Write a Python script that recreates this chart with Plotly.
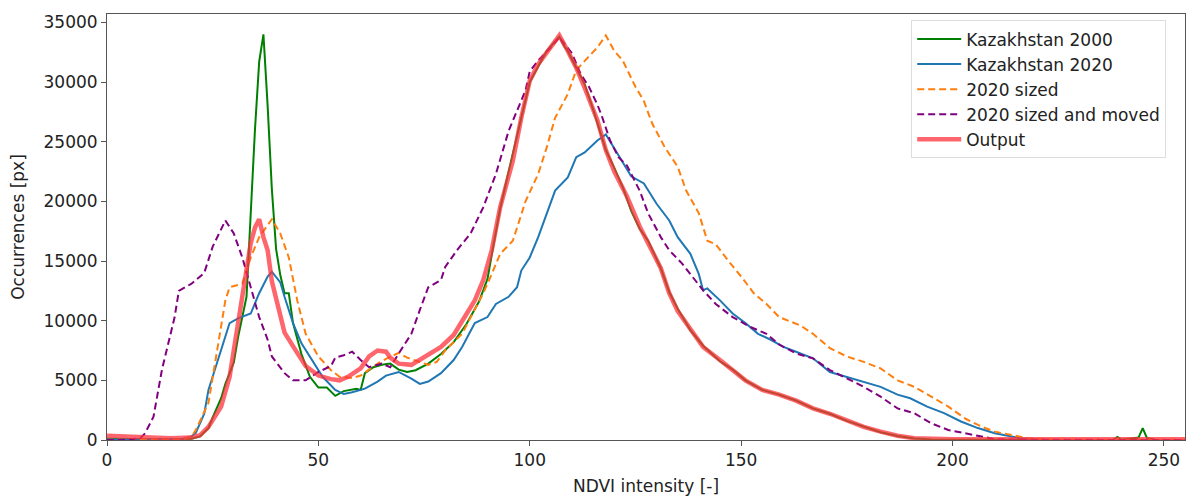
import plotly.graph_objects as go

# histogram values (NDVI bin -> pixel count)
green_x = [0, 10, 20, 22, 24, 25, 27, 28, 30, 31, 33, 34, 35, 36, 37, 38, 39, 40, 41, 42, 43, 44, 46, 48,
           50, 52, 54, 56, 58, 59, 60, 61, 63, 65, 67, 69, 71, 73, 76, 79, 82, 85, 88, 90, 91, 93, 95, 98,
           100, 102, 104, 105, 106, 107, 108, 109, 111, 113, 115, 116, 118, 120, 122, 124, 126, 128, 131,
           133, 135, 138, 141, 145, 148, 151, 155, 159, 163, 167, 171, 175, 179, 183, 187, 191, 195, 200,
           230, 238, 239, 240, 244, 245, 246, 248, 255]
green_y = [100, 60, 100, 300, 1000, 1900, 3500, 4700, 6500, 8600, 12000, 19000, 26000, 31700, 34000, 28000,
           21000, 16000, 13800, 12300, 12300, 9800, 7200, 5300, 4400, 4400, 3700, 4100, 4200, 4300, 4200,
           5600, 6100, 6300, 6400, 5900, 5700, 5850, 6400, 7200, 8200, 9700, 11600, 13500, 15500, 19400,
           22500, 27000, 30000, 31300, 32600, 33000, 33400, 33800, 33100, 32600, 31200, 29800, 27700, 26600,
           24300, 22800, 21200, 19200, 17700, 16700, 14400, 12400, 11000, 9200, 7900, 6600, 5900, 5000, 4200,
           3800, 3300, 2650, 2200, 1600, 1100, 650, 330, 130, 50, 20, 10, 20, 250, 20, 200, 1000, 150, 20, 10]

blue_x = [0, 10, 18, 20, 21, 23, 24, 26, 27, 29, 31, 34, 36, 38, 39, 41, 42, 44, 46, 49, 51, 54, 56, 58,
          61, 64, 66, 69, 72, 74, 76, 79, 82, 84, 87, 90, 92, 95, 97, 98, 100, 102, 104, 106, 109, 111, 113,
          116, 118, 121, 124, 127, 130, 133, 135, 138, 140, 141, 142, 145, 148, 151, 154, 157, 160, 163,
          167, 171, 175, 179, 183, 187, 190, 194, 198, 202, 206, 210, 216, 220, 255]
blue_y = [50, 40, 100, 300, 600, 2200, 4200, 6500, 7700, 9800, 10200, 10600, 12300, 13700, 14100, 13200,
          12000, 9800, 8100, 6400, 5300, 4200, 3850, 4000, 4300, 4900, 5400, 5700, 5150, 4700, 4900, 5600,
          6700, 7800, 9800, 10300, 11400, 12000, 12800, 14200, 15300, 17000, 19000, 20900, 22000, 23700,
          24100, 25100, 25600, 23900, 22100, 21500, 19800, 18400, 17000, 15600, 13900, 12550, 12700, 11700,
          10600, 9800, 8900, 8400, 7800, 7400, 6850, 5700, 5300, 4900, 4450, 3800, 3500, 2800, 2250, 1550,
          1000, 560, 150, 30, 10]

sized_x = [0, 18, 20, 21, 24, 26, 28, 29, 32, 34, 36, 39, 41, 43, 45, 47, 50, 53, 55, 58, 60, 62, 64, 66,
           69, 71, 76, 78, 80, 84, 86, 89, 91, 93, 96, 97, 99, 102, 104, 106, 109, 111, 114, 116, 118, 120,
           122, 125, 127, 129, 132, 135, 137, 140, 142, 144, 147, 150, 153, 156, 159, 164, 167, 171, 175,
           179, 183, 187, 191, 195, 199, 203, 207, 210, 214, 218, 222, 255]
sized_y = [20, 50, 300, 840, 3100, 7500, 11700, 12800, 13100, 15300, 17000, 18500, 17300, 15300, 11700,
           8900, 7000, 5850, 5300, 5200, 5400, 5900, 6400, 6800, 7300, 6900, 6300, 6550, 7500, 8900, 10300,
           12300, 13900, 15600, 16700, 17800, 20000, 22300, 24500, 27000, 29000, 31000, 32100, 32900, 33900,
           32600, 31800, 29600, 28400, 26500, 24500, 22900, 20900, 19000, 16700, 16400, 15000, 13700, 12300,
           11400, 10300, 9600, 8900, 7700, 7000, 6550, 6000, 5000, 4450, 3600, 2800, 1800, 1100, 700, 400,
           140, 30, 10]

moved_x = [0, 5, 8, 9, 11, 13, 16, 17, 20, 23, 25, 28, 30, 32, 34, 36, 38, 39, 42, 44, 47, 50, 53, 54,
           56, 58, 60, 62, 65, 67, 69, 72, 74, 76, 79, 80, 83, 86, 89, 92, 95, 97, 99, 100, 102, 105, 107,
           110, 112, 114, 116, 117, 119, 121, 123, 126, 128, 131, 133, 136, 139, 141, 144, 148, 152, 156,
           159, 163, 167, 171, 175, 179, 183, 187, 191, 195, 199, 203, 207, 210, 215, 255]
moved_y = [0, 20, 200, 560, 1950, 5900, 10300, 12500, 13100, 14000, 16200, 18400, 17300, 15300, 12800,
           10300, 8400, 7000, 5600, 5000, 5000, 5700, 6200, 6900, 7100, 7400, 6700, 6100, 6400, 6100, 7250,
           8900, 10900, 12800, 13400, 14500, 16000, 17300, 19500, 22300, 25900, 27600, 29300, 30900, 31800,
           32900, 33750, 32400, 30700, 29600, 28100, 27200, 25100, 23700, 23000, 20900, 19000, 17000, 15900,
           14800, 13400, 12550, 11400, 10300, 9500, 8900, 8000, 7250, 6840, 5860, 5160, 4460, 3630, 2650,
           2230, 1400, 840, 560, 280, 80, 20, 0]

out_x = [0, 5, 10, 15, 20, 22, 24, 27, 29, 31, 32, 34, 35, 36, 37, 38, 39, 41, 42, 45, 47, 50, 53, 55,
         57, 60, 62, 64, 66, 67, 69, 72, 75, 79, 82, 84, 87, 89, 91, 93, 96, 98, 100, 102, 105, 106, 107,
         109, 111, 113, 116, 118, 120, 123, 126, 128, 131, 133, 135, 138, 141, 145, 148, 151, 155, 159,
         163, 167, 171, 175, 179, 183, 187, 191, 195, 200, 220, 255]
out_y = [350, 300, 200, 150, 200, 400, 1100, 2800, 5300, 9800, 12000, 16500, 17800, 18500, 17000, 15900,
         13300, 10600, 9000, 7300, 6200, 5400, 5100, 5000, 5300, 6000, 7000, 7500, 7400, 6900, 6400, 6300,
         6900, 7800, 8800, 10000, 11700, 13400, 15900, 19500, 23400, 27000, 30100, 31500, 32900, 33400,
         33900, 32600, 31200, 29500, 26800, 24300, 22500, 20400, 17900, 16500, 14400, 12300, 10800, 9300,
         7800, 6700, 5900, 5000, 4200, 3800, 3300, 2650, 2200, 1650, 1100, 700, 360, 150, 80, 60, 60, 60]

FONT = "DejaVu Sans"

fig = go.Figure()
fig.add_trace(go.Scatter(x=green_x, y=green_y, mode="lines", name="Kazakhstan 2000",
                         line=dict(color="#008000", width=2)))
fig.add_trace(go.Scatter(x=blue_x, y=blue_y, mode="lines", name="Kazakhstan 2020",
                         line=dict(color="#1f77b4", width=2)))
fig.add_trace(go.Scatter(x=sized_x, y=sized_y, mode="lines", name="2020 sized",
                         line=dict(color="#ff7f0e", width=2, dash="7px,4px")))
fig.add_trace(go.Scatter(x=moved_x, y=moved_y, mode="lines", name="2020 sized and moved",
                         line=dict(color="#800080", width=2, dash="7px,4px")))
fig.add_trace(go.Scatter(x=out_x, y=out_y, mode="lines", name="Output",
                         line=dict(color="rgba(255,50,60,0.75)", width=4.5)))

axis_common = dict(
    showline=True, linecolor="#555", linewidth=1, mirror=True,
    ticks="outside", ticklen=5, tickcolor="#555",
    showgrid=False, zeroline=False, automargin=False,
    tickfont=dict(family=FONT, size=17, color="#222"),
)
fig.update_xaxes(range=[0, 255], tickvals=[0, 50, 100, 150, 200, 250],
                 title=dict(text="NDVI intensity [-]", font=dict(family=FONT, size=17, color="#222"),
                            standoff=12),
                 **axis_common)
fig.update_yaxes(range=[0, 35700], tickvals=list(range(0, 35001, 5000)), tickformat="d",
                 title=dict(text="Occurrences [px]", font=dict(family=FONT, size=17, color="#222"),
                            standoff=14),
                 **axis_common)

fig.update_layout(
    width=1186, height=496,
    margin=dict(l=107, r=1, t=14, b=56),
    plot_bgcolor="white", paper_bgcolor="white",
    font=dict(family=FONT, size=17, color="#222"),
    legend=dict(x=0.746, y=0.985, xanchor="left", yanchor="top",
                bgcolor="rgba(255,255,255,0.8)", bordercolor="#dddddd", borderwidth=1,
                font=dict(family=FONT, size=17, color="#222"), tracegroupgap=0,
                itemwidth=44),
    showlegend=True,
)

fig.write_html("out.html", config={"displayModeBar": False},
               post_script="document.body.style.margin='0';")
